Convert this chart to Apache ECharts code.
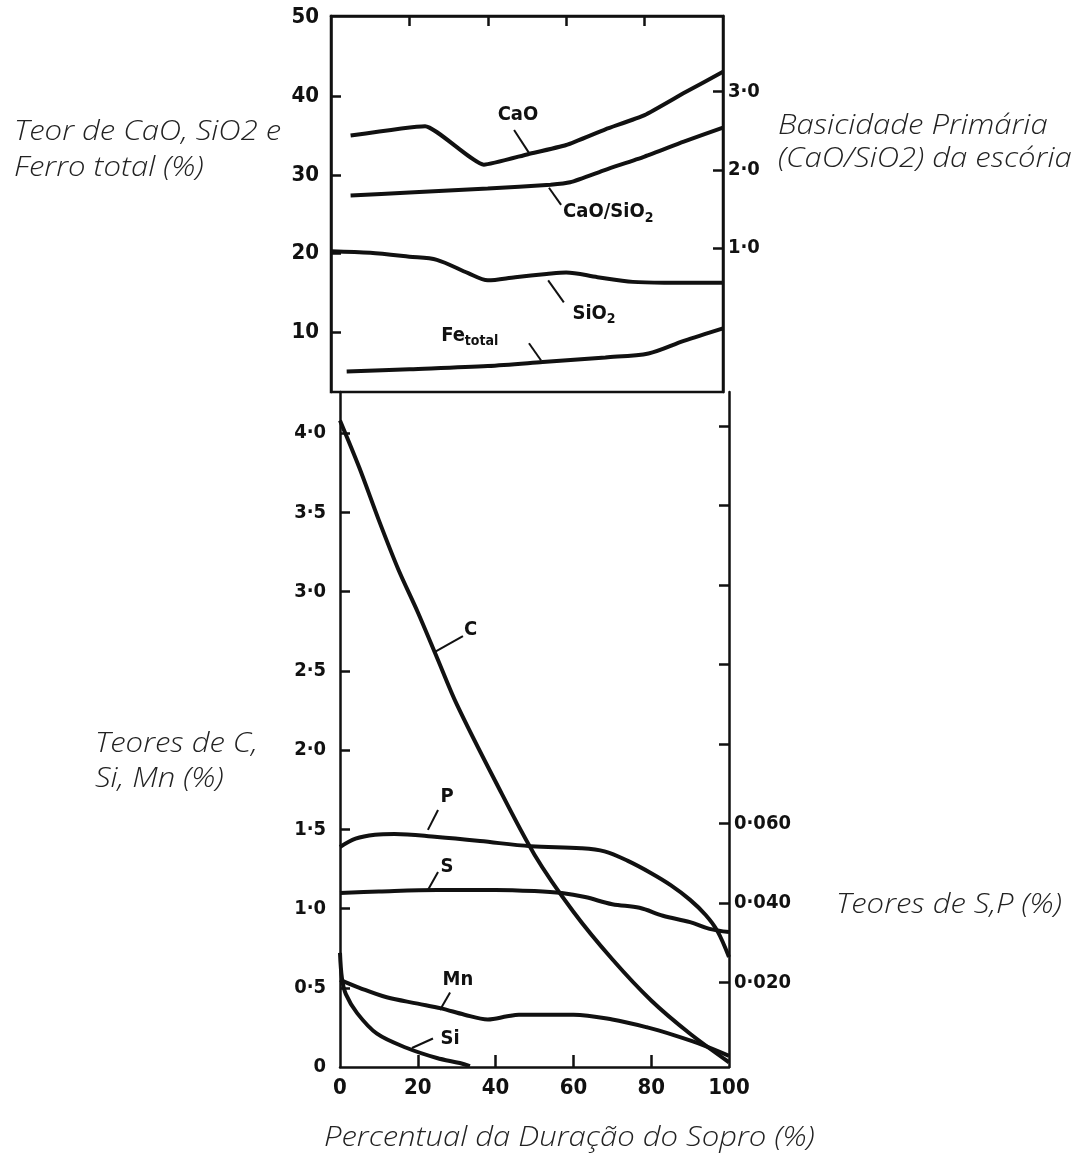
<!DOCTYPE html>
<html>
<head>
<meta charset="utf-8">
<script src="https://cdn.jsdelivr.net/npm/echarts@6/dist/echarts.min.js"></script>
<style>
  html, body { margin: 0; padding: 0; background: #fff; }
  #main { width: 1086px; height: 1158px; }
</style>
</head>
<body>
<div id="main"></div>
<script>
/*************** dados **************/
// painel superior - escória
var caoX = [5, 24, 39, 50, 60, 70, 80, 90, 100];
var caoY = [35.0, 36.2, 31.3, 32.6, 33.8, 35.8, 37.6, 40.4, 43.1];
var basX = [5, 20, 40, 56, 61, 70, 80, 90, 100];          // CaO/SiO2 (eixo direito)
var basY = [1.67, 1.71, 1.76, 1.81, 1.84, 2.0, 2.17, 2.36, 2.54];
var sio2X = [0, 10, 20, 27, 35, 40, 47, 55, 60, 68, 77, 85, 100];
var sio2Y = [20.3, 20.1, 19.6, 19.2, 17.5, 16.6, 17.0, 17.4, 17.6, 17.0, 16.4, 16.3, 16.3];
var feX = [4, 20, 40, 54, 70, 81, 90, 100];
var feY = [5.0, 5.3, 5.7, 6.2, 6.8, 7.3, 8.9, 10.5];

// painel inferior - banho
var cX = [0, 5, 10, 15, 20, 25, 30, 40, 50, 60, 70, 80, 90, 100];
var cY = [4.08, 3.78, 3.45, 3.14, 2.87, 2.58, 2.29, 1.80, 1.34, 0.98, 0.68, 0.42, 0.21, 0.03];
var pX = [0, 4, 9, 14, 25, 36, 49, 62, 68, 74, 80, 85, 90, 94, 97, 100];   // eixo direito
var pY = [0.0541, 0.0562, 0.0572, 0.0574, 0.0566, 0.0556, 0.0543, 0.0538, 0.0530, 0.0506, 0.0475, 0.0445, 0.0408, 0.0370, 0.0330, 0.0264];
var sX = [0, 10, 25, 40, 50, 57, 63, 70, 77, 83, 90, 95, 100];             // eixo direito
var sY = [0.0425, 0.0429, 0.0433, 0.0433, 0.0430, 0.0425, 0.0415, 0.0397, 0.0388, 0.0368, 0.0352, 0.0335, 0.0327];
var mnX = [0, 5, 12, 20, 26, 32, 38, 43, 46, 50, 60, 70, 79, 86, 92, 100];
var mnY = [0.55, 0.50, 0.44, 0.40, 0.37, 0.33, 0.30, 0.32, 0.33, 0.33, 0.33, 0.30, 0.25, 0.20, 0.15, 0.07];
var siX = [0, 0.5, 1.5, 4.4, 9.5, 17.2, 24.9, 30.8, 33.4];
var siY = [0.72, 0.56, 0.46, 0.34, 0.21, 0.12, 0.057, 0.025, 0.006];

// marcas dos eixos
var xTicks = [20, 40, 60, 80];
var xLabels = [0, 20, 40, 60, 80, 100];
var topLeftTicks = [10, 20, 30, 40];
var topLeftLabels = [10, 20, 30, 40, 50];
var topRightTicks = [1, 2, 3];
var botLeftTicks = [0.5, 1, 1.5, 2, 2.5, 3, 3.5, 4];
var botLeftLabels = [0, 0.5, 1, 1.5, 2, 2.5, 3, 3.5, 4];
var botRightTicks = [0.02, 0.04, 0.06, 0.08, 0.10, 0.12, 0.14, 0.16];
var botRightLabels = [0.02, 0.04, 0.06];

function zip(xs, ys) {
  return xs.map(function (x, i) { return [x, ys[i]]; });
}
function dot(v, d) {
  if (v === 0) return '0';
  return v.toFixed(d).replace('.', '·');
}

var numFont = "'DejaVu Sans Condensed', 'DejaVu Sans', sans-serif";
var txtFont = "'Open Sans', sans-serif";
var ink = '#111';

var lbl = {
  color: ink, fontFamily: numFont, fontWeight: 'bold', fontSize: 20,
  rich: { s: { fontFamily: numFont, fontWeight: 'bold', fontSize: 14, color: ink, padding: [12, 0, 0, 0] } }
};

// rótulo da curva + traço indicador, em coordenadas de dados
function tag(text, at, from, to, align) {
  return {
    markPoint: {
      symbol: 'circle', symbolSize: 0, silent: true,
      label: Object.assign({ show: true, position: 'inside', align: align || 'center', formatter: text }, lbl),
      data: [{ coord: at }]
    },
    markLine: {
      symbol: ['none', 'none'], silent: true, animation: false,
      label: { show: false },
      lineStyle: { color: ink, width: 2, type: 'solid' },
      data: [[{ coord: from }, { coord: to }]]
    }
  };
}

function line(name, xi, yi, data, smooth, extra) {
  return Object.assign({
    name: name, type: 'line', xAxisIndex: xi, yAxisIndex: yi,
    data: data, showSymbol: false, smooth: smooth,
    lineStyle: { color: ink, width: 4 }, z: 3
  }, extra);
}

// títulos dos eixos em itálico fino
function caption(text, left, top, lh) {
  return {
    type: 'text', left: left, top: top, scaleX: 1.11,
    style: { text: text, font: 'italic 300 28px ' + txtFont, fill: '#222', lineHeight: lh || 36 }
  };
}

var axisLineStyle = { show: true, onZero: false, lineStyle: { color: ink, width: 2.5 } };
var tickStyle = { lineStyle: { color: ink, width: 2.5 } };

var chart = echarts.init(document.getElementById('main'));
var option = {
  backgroundColor: '#fff',
  animation: false,
  grid: [
    { left: 331, top: 16, width: 392, height: 376, show: true, borderColor: ink, borderWidth: 2.5 },
    { left: 340, top: 392, width: 389, height: 675, show: false }
  ],
  xAxis: [
    {
      gridIndex: 0, type: 'value', position: 'top', min: 0, max: 100,
      axisLine: axisLineStyle, splitLine: { show: false },
      axisTick: Object.assign({ show: true, inside: true, length: 10, customValues: xTicks }, tickStyle),
      axisLabel: { show: false }
    },
    {
      gridIndex: 1, type: 'value', position: 'bottom', min: 0, max: 100,
      axisLine: axisLineStyle, splitLine: { show: false },
      axisTick: Object.assign({ show: true, inside: true, length: 12, customValues: xTicks }, tickStyle),
      axisLabel: { color: ink, fontFamily: numFont, fontWeight: 'bold', fontSize: 22, margin: 10, customValues: xLabels }
    }
  ],
  yAxis: [
    {
      gridIndex: 0, type: 'value', position: 'left', min: 2.4, max: 50.2,
      axisLine: axisLineStyle, splitLine: { show: false },
      axisTick: Object.assign({ show: true, inside: true, length: 10, customValues: topLeftTicks }, tickStyle),
      axisLabel: { color: ink, fontFamily: numFont, fontWeight: 'bold', fontSize: 22, margin: 12, customValues: topLeftLabels }
    },
    {
      gridIndex: 0, type: 'value', position: 'right', min: -0.846, max: 3.97,
      axisLine: axisLineStyle, splitLine: { show: false },
      axisTick: Object.assign({ show: true, inside: true, length: 10, customValues: topRightTicks }, tickStyle),
      axisLabel: {
        color: ink, fontFamily: numFont, fontWeight: 'bold', fontSize: 20, margin: 5, customValues: topRightTicks,
        formatter: function (v) { return dot(v, 1); }
      }
    },
    {
      gridIndex: 1, type: 'value', position: 'left', min: 0, max: 4.26,
      axisLine: axisLineStyle, splitLine: { show: false },
      axisTick: Object.assign({ show: true, inside: true, length: 10, customValues: botLeftTicks }, tickStyle),
      axisLabel: {
        color: ink, fontFamily: numFont, fontWeight: 'bold', fontSize: 20, margin: 14, customValues: botLeftLabels,
        formatter: function (v) { return dot(v, 1); }
      }
    },
    {
      gridIndex: 1, type: 'value', position: 'right', min: -0.00126, max: 0.1686,
      axisLine: axisLineStyle, splitLine: { show: false },
      axisTick: Object.assign({ show: true, inside: true, length: 10, customValues: botRightTicks }, tickStyle),
      axisLabel: {
        color: ink, fontFamily: numFont, fontWeight: 'bold', fontSize: 20, margin: 5, customValues: botRightLabels,
        formatter: function (v) { return dot(v, 3); }
      }
    }
  ],
  graphic: [
    caption('Teor de CaO, SiO2 e\nFerro total (%)', 14, 114, 36),
    caption('Basicidade Primária\n(CaO/SiO2) da escória', 778, 110, 33),
    caption('Teores de C,\nSi, Mn (%)', 95, 727, 35),
    caption('Teores de S,P (%)', 836, 887),
    caption('Percentual da Duração do Sopro (%)', 324, 1120)
  ],
  series: [
    line('CaO', 0, 0, zip(caoX, caoY), 0.15, tag('CaO', [47.7, 37.6], [50.5, 32.8], [46.7, 35.7])),
    line('CaO/SiO2', 0, 1, zip(basX, basY), 0.2, tag('CaO/SiO{s|2}', [59.2, 1.46], [55.6, 1.77], [58.7, 1.55], 'left')),
    line('SiO2', 0, 0, zip(sio2X, sio2Y), 0.3, tag('SiO{s|2}', [67.1, 12.4], [55.4, 16.6], [59.4, 13.8])),
    line('Fe total', 0, 0, zip(feX, feY), 0.3, tag('Fe{s|total}', [28.1, 9.6], [50.5, 8.6], [53.6, 6.4], 'left')),
    line('C', 1, 2, zip(cX, cY), 0.3, tag('C', [33.6, 2.76], [24.4, 2.62], [31.6, 2.72])),
    line('P', 1, 3, zip(pX, pY), 0.35, tag('P', [27.5, 0.0667], [22.6, 0.0584], [25.2, 0.0634])),
    line('S', 1, 3, zip(sX, sY), 0.35, tag('S', [27.5, 0.0491], [22.6, 0.0433], [25.2, 0.0478])),
    line('Mn', 1, 2, zip(mnX, mnY), 0.35, tag('Mn', [30.3, 0.55], [25.7, 0.36], [28.3, 0.47])),
    line('Si', 1, 2, zip(siX, siY), 0.35, tag('Si', [28.3, 0.18], [18.5, 0.12], [23.9, 0.18]))
  ]
};
chart.setOption(option);
</script>
</body>
</html>
